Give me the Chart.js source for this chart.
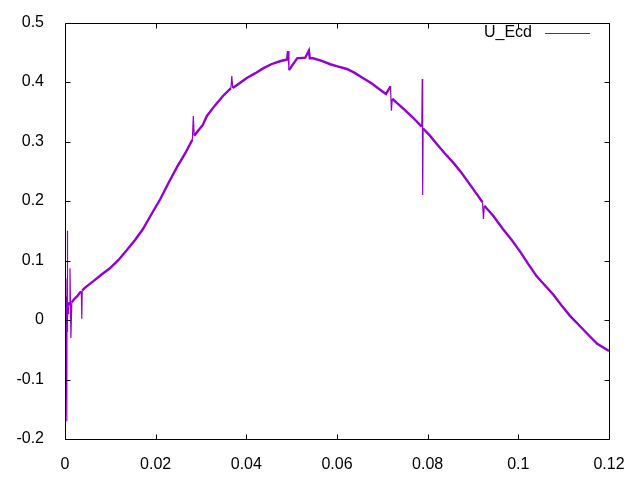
<!DOCTYPE html>
<html>
<head>
<meta charset="utf-8">
<script src="https://cdn.jsdelivr.net/npm/chart.js@4/dist/chart.umd.min.js"></script>
<style>
html,body{margin:0;padding:0;background:#fff;}
#wrap{width:640px;height:480px;}
</style>
</head>
<body>
<div id="wrap"><canvas id="c" width="640" height="480"></canvas></div>
<script>
const seriesName = "U_Ecd";
const xValues = [0, 0.0002, 0.0004, 0.00045, 0.0005, 0.00055, 0.0006, 0.0007, 0.0009, 0.001,
  0.0011, 0.0013, 0.0015, 0.002, 0.0027, 0.0033, 0.0036, 0.0037, 0.0038, 0.0045,
  0.0062, 0.008, 0.0099, 0.0118, 0.0137, 0.0155, 0.0172, 0.019, 0.021, 0.0228,
  0.0247, 0.0265, 0.0281, 0.0283, 0.0285, 0.0304, 0.0313, 0.033, 0.0349, 0.0366,
  0.0368, 0.037, 0.0385, 0.0401, 0.042, 0.0437, 0.0455, 0.0474, 0.049, 0.0492,
  0.0494, 0.0512, 0.053, 0.0538, 0.054, 0.0547, 0.0565, 0.0585, 0.0603, 0.0622,
  0.064, 0.0657, 0.0676, 0.0695, 0.0708, 0.0718, 0.0720, 0.0722, 0.0732, 0.075,
  0.0768, 0.0783, 0.0787, 0.0788, 0.0789, 0.0790, 0.0805, 0.0821, 0.0838, 0.0856,
  0.0875, 0.0893, 0.0908, 0.0921, 0.0923, 0.0925, 0.0945, 0.0966, 0.0985, 0.1004,
  0.1022, 0.1041, 0.1059, 0.1077, 0.1095, 0.1114, 0.1133, 0.1152, 0.1174, 0.12];
const yValues = [0, 0.07, -0.17, 0.04, 0.15, -0.02, 0.02, 0.01, 0.03, 0.025,
  0.087, -0.03, 0.03, 0.035, 0.04, 0.046, 0.048, 0.002, 0.05, 0.055,
  0.065, 0.076, 0.087, 0.101, 0.118, 0.135, 0.153, 0.177, 0.203, 0.23,
  0.257, 0.28, 0.303, 0.343, 0.31, 0.328, 0.343, 0.36, 0.377, 0.39,
  0.41, 0.39, 0.398, 0.407, 0.415, 0.423, 0.43, 0.435, 0.438, 0.452,
  0.42, 0.44, 0.441, 0.453, 0.44, 0.44, 0.436, 0.43, 0.426, 0.422,
  0.415, 0.407, 0.398, 0.387, 0.38, 0.393, 0.352, 0.372, 0.365, 0.353,
  0.34, 0.328, 0.325, 0.405, 0.21, 0.322, 0.31, 0.295, 0.28, 0.265,
  0.247, 0.228, 0.212, 0.198, 0.17, 0.192, 0.175, 0.153, 0.135, 0.115,
  0.094, 0.073, 0.058, 0.043, 0.025, 0.007, -0.008, -0.023, -0.04, -0.052];
const xTickValues = [0, 0.02, 0.04, 0.06, 0.08, 0.1, 0.12];
const yTickValues = [-0.2, -0.1, 0, 0.1, 0.2, 0.3, 0.4, 0.5];

const lineColor = '#9400d3';
const fontFamily = '"Liberation Sans", Arial, sans-serif';
const fontSize = 16;

const points = xValues.map((x, i) => ({x: x, y: yValues[i]}));
const fmt = v => String(parseFloat(Number(v).toFixed(3)));

const framePlugin = {
  id: 'frame',
  afterDraw(chart) {
    const ctx = chart.ctx;
    const a = chart.chartArea;
    const xs = chart.scales.x, ys = chart.scales.y;
    const L = Math.round(a.left) + 0.5, R = Math.round(a.right) + 0.5;
    const T = Math.round(a.top) + 0.5, B = Math.round(a.bottom) + 0.5;
    const tl = 5;
    ctx.save();
    ctx.strokeStyle = '#000';
    ctx.lineWidth = 1;
    ctx.beginPath();
    ctx.rect(L, T, R - L, B - T);
    xTickValues.forEach(v => {
      const p = Math.round(xs.getPixelForValue(v)) + 0.5;
      ctx.moveTo(p, B); ctx.lineTo(p, B - tl);
      ctx.moveTo(p, T); ctx.lineTo(p, T + tl);
    });
    yTickValues.forEach(v => {
      const p = Math.round(ys.getPixelForValue(v)) + 0.5;
      ctx.moveTo(L, p); ctx.lineTo(L + tl, p);
      ctx.moveTo(R, p); ctx.lineTo(R - tl, p);
    });
    ctx.stroke();
    // legend
    ctx.font = fontSize + 'px ' + fontFamily;
    ctx.fillStyle = '#000';
    ctx.textAlign = 'right';
    ctx.textBaseline = 'middle';
    ctx.fillText(seriesName, 532, 33);
    ctx.strokeStyle = lineColor;
    ctx.lineWidth = 1.2;
    ctx.beginPath();
    ctx.moveTo(545, 33.5); ctx.lineTo(590, 33.5);
    ctx.stroke();
    ctx.restore();
  }
};

new Chart(document.getElementById('c'), {
  type: 'scatter',
  data: {
    datasets: [{
      label: seriesName,
      data: points,
      showLine: true,
      borderColor: lineColor,
      backgroundColor: lineColor,
      borderWidth: 2.4,
      pointRadius: 0,
      tension: 0,
      segment: {
        borderWidth: c => {
          const dx = Math.abs(c.p1.parsed.x - c.p0.parsed.x);
          const dy = Math.abs(c.p1.parsed.y - c.p0.parsed.y);
          return (dx < 0.0006 && dy > 0.015) ? 1.2 : 2.4;
        }
      }
    }]
  },
  options: {
    responsive: false,
    animation: false,
    devicePixelRatio: 1,
    layout: { padding: { top: 19, right: 31, left: 0, bottom: 0 } },
    plugins: { legend: { display: false }, tooltip: { enabled: false } },
    scales: {
      x: {
        type: 'linear', min: 0, max: 0.12,
        grid: { display: false }, border: { display: false },
        afterBuildTicks: s => { s.ticks = xTickValues.map(v => ({value: v})); },
        afterFit: s => { s.height = 41; },
        ticks: { color: '#000', padding: 8, maxRotation: 0, autoSkip: false,
          font: { family: fontFamily, size: fontSize }, callback: v => fmt(v) }
      },
      y: {
        type: 'linear', min: -0.2, max: 0.5,
        grid: { display: false }, border: { display: false },
        afterBuildTicks: s => { s.ticks = yTickValues.map(v => ({value: v})); },
        afterFit: s => { s.width = 65; },
        ticks: { color: '#000', padding: 13, autoSkip: false,
          font: { family: fontFamily, size: fontSize }, callback: v => fmt(v) }
      }
    }
  },
  plugins: [framePlugin]
});
</script>
</body>
</html>
